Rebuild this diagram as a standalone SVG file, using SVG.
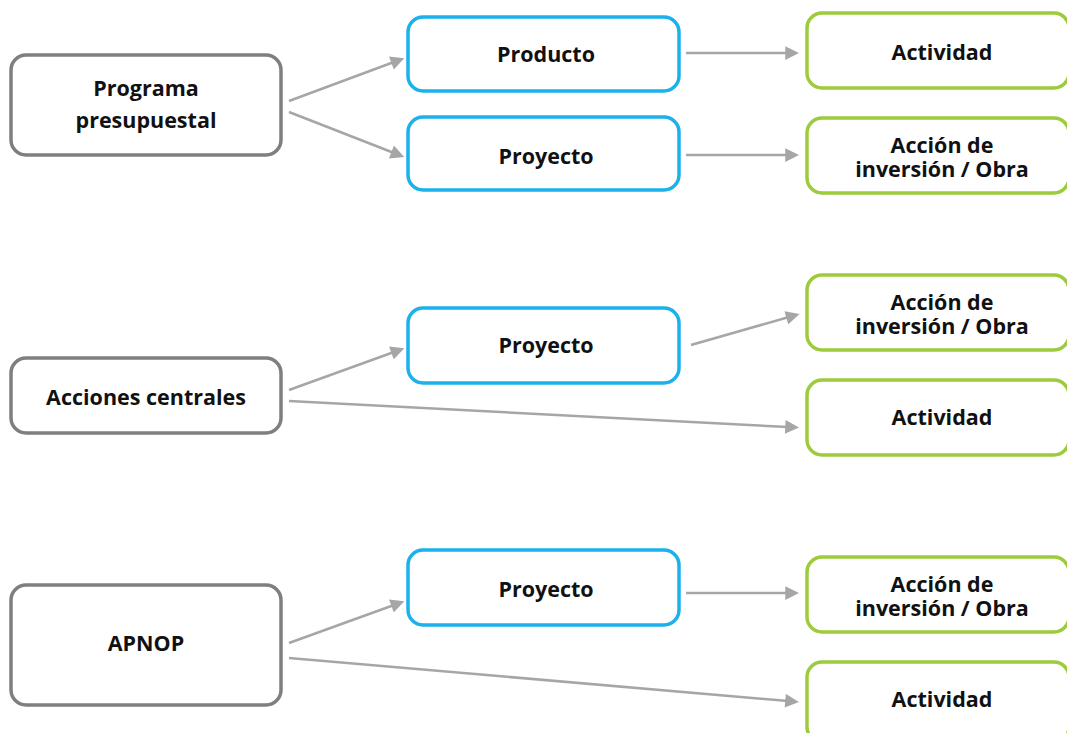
<svg xmlns="http://www.w3.org/2000/svg" width="1067" height="733" viewBox="0 0 1067 733">
<style>
.g{fill:#fff;stroke:#7f7f7f;stroke-width:3.5}
.b{fill:#fff;stroke:#1bb1ec;stroke-width:3.5}
.n{fill:#fff;stroke:#9ccb3b;stroke-width:3.5}
text{font-family:"Open Sans","Noto Sans","Liberation Sans",sans-serif;font-weight:bold;font-size:21.5px;fill:#111;text-anchor:middle;dominant-baseline:central}
.c line{stroke:#a6a6a6;stroke-width:2.5;marker-end:url(#ah)}
</style>
<defs>
<marker id="ah" viewBox="0 0 10 10" refX="2" refY="5" markerWidth="6" markerHeight="5.5" markerUnits="strokeWidth" orient="auto"><path d="M0,0L10,5L0,10z" fill="#a6a6a6"/></marker>
</defs>
<rect width="1067" height="733" fill="#fff"/>
<g class="c">
<line x1="289" y1="101" x2="394" y2="62"/>
<line x1="289" y1="112" x2="394" y2="153"/>
<line x1="686" y1="53" x2="788" y2="53"/>
<line x1="686" y1="155" x2="788" y2="155"/>
<line x1="289" y1="390" x2="394" y2="352"/>
<line x1="289" y1="401" x2="788" y2="427"/>
<line x1="691" y1="345" x2="789" y2="317"/>
<line x1="289" y1="643" x2="394" y2="605"/>
<line x1="289" y1="658" x2="788" y2="701"/>
<line x1="686" y1="593" x2="788" y2="593"/>
</g>
<g id="programa"><rect class="g" x="11" y="55" width="270" height="100" rx="15"/><text x="146" y="87">Programa</text><text x="146" y="119">presupuestal</text></g>
<g id="acciones"><rect class="g" x="11" y="358" width="270" height="75" rx="15"/><text x="146" y="396">Acciones centrales</text></g>
<g id="apnop"><rect class="g" x="11" y="585" width="270" height="120" rx="15"/><text x="146" y="642">APNOP</text></g>
<g id="producto"><rect class="b" x="408" y="17" width="271" height="74" rx="15"/><text x="546" y="53">Producto</text></g>
<g id="proyecto1"><rect class="b" x="408" y="117" width="271" height="73" rx="15"/><text x="546" y="155">Proyecto</text></g>
<g id="proyecto2"><rect class="b" x="408" y="308" width="271" height="75" rx="15"/><text x="546" y="344">Proyecto</text></g>
<g id="proyecto3"><rect class="b" x="408" y="550" width="271" height="75" rx="15"/><text x="546" y="588">Proyecto</text></g>
<g id="actividad1"><rect class="n" x="807" y="13" width="262" height="75" rx="15"/><text x="942" y="51">Actividad</text></g>
<g id="accion1"><rect class="n" x="807" y="118" width="262" height="75" rx="15"/><text x="942" y="144">Acción de</text><text x="942" y="168">inversión / Obra</text></g>
<g id="accion2"><rect class="n" x="807" y="275" width="262" height="75" rx="15"/><text x="942" y="301">Acción de</text><text x="942" y="325">inversión / Obra</text></g>
<g id="actividad2"><rect class="n" x="807" y="380" width="262" height="75" rx="15"/><text x="942" y="416">Actividad</text></g>
<g id="accion3"><rect class="n" x="807" y="557" width="262" height="75" rx="15"/><text x="942" y="583">Acción de</text><text x="942" y="607">inversión / Obra</text></g>
<g id="actividad3"><rect class="n" x="807" y="662" width="262" height="80" rx="15"/><text x="942" y="698">Actividad</text></g>
</svg>
